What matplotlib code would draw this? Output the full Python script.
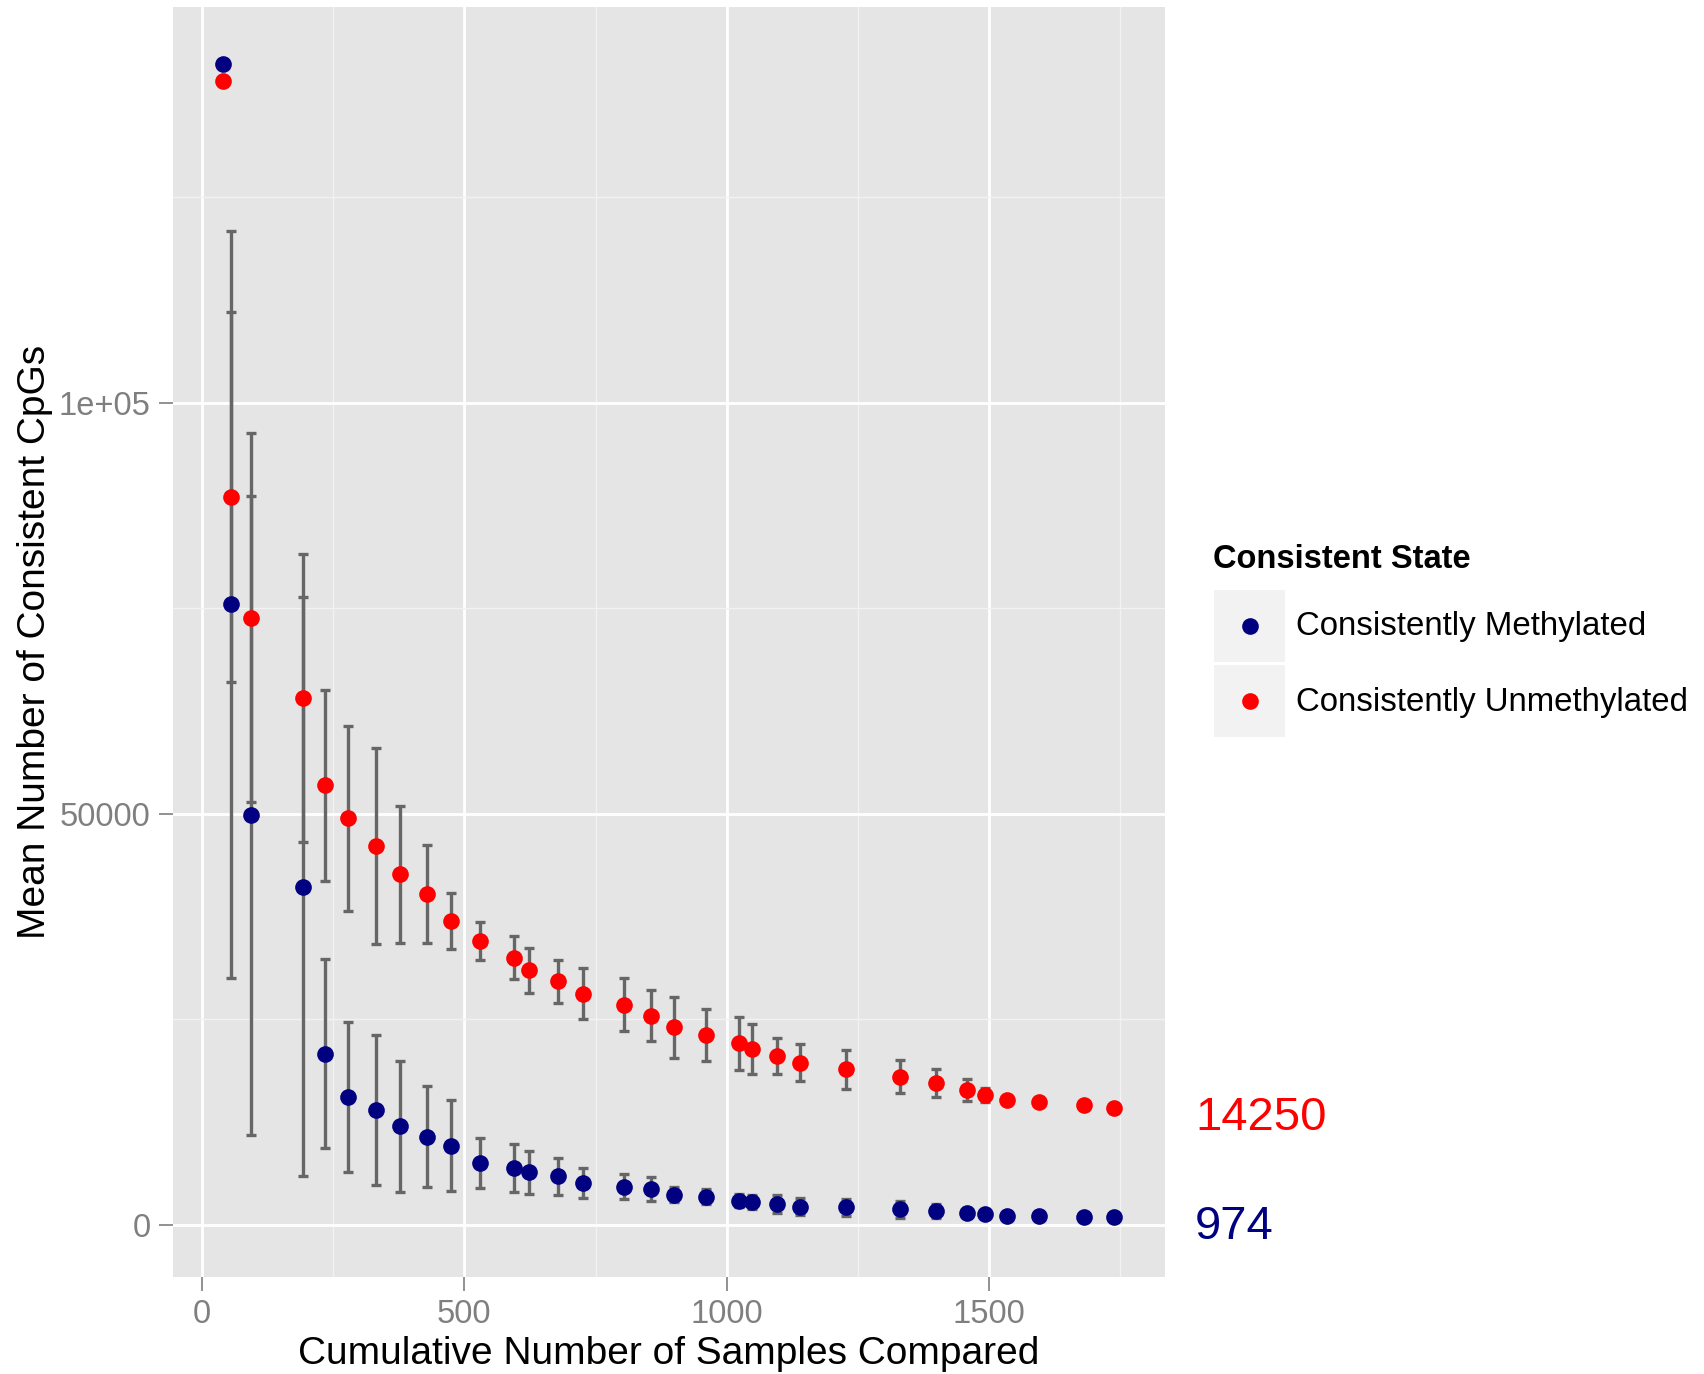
import matplotlib.pyplot as plt
import matplotlib.transforms as mtransforms
from matplotlib.patches import Rectangle
from matplotlib.lines import Line2D
from matplotlib.ticker import MultipleLocator, FixedLocator

plt.rcParams['font.family'] = ['Liberation Sans', 'DejaVu Sans']

# cumulative sample counts
samples = [41, 56, 93, 193, 234, 279, 331, 378, 429, 475, 530, 594, 624, 678, 727, 805,
           856, 900, 961, 1023, 1049, 1096, 1140, 1227, 1330, 1399, 1457, 1493, 1534, 1595,
           1680, 1737]

# mean consistent CpGs and spread, methylated
meth_mean = [141200, 75500, 49850, 41150, 20850, 15600, 14000, 12000, 10750, 9650, 7500,
             6900, 6400, 5900, 5100, 4670, 4350, 3700, 3450, 2950, 2750, 2500, 2230, 2150,
             1900, 1700, 1500, 1300, 1100, 1090, 1010, 974]
meth_sd = [0, 45400, 38850, 35200, 11450, 9100, 9100, 7950, 6100, 5500, 3050, 2900, 2650,
           2300, 1800, 1550, 1450, 900, 950, 800, 850, 1100, 1000, 1000, 1000, 850, 550,
           450, 400, 350, 300, 250]

# mean consistent CpGs and spread, unmethylated
unmeth_mean = [139150, 88550, 73850, 64150, 53470, 49450, 46120, 42650, 40250, 36980, 34530,
               32530, 31010, 29630, 28120, 26780, 25470, 24030, 23100, 22100, 21380, 20560,
               19740, 18930, 18050, 17220, 16400, 15800, 15200, 14900, 14590, 14250]
unmeth_sd = [0, 22500, 22450, 17500, 11600, 11230, 11880, 8300, 5930, 3450, 2330, 2570, 2730,
             2610, 3120, 3240, 3080, 3690, 3140, 3200, 3060, 2230, 2250, 2330, 1990, 1700,
             1320, 900, 300, 250, 200, 200]

state_labels = ["Consistently Methylated", "Consistently Unmethylated"]
state_colors = ["#000080", "#FF0000"]

W, H = 1704, 1374
fig = plt.figure(figsize=(W / 100, H / 100), dpi=100)


def fx(px):
    return px / W


def fy(py):
    return 1 - py / H


ax = fig.add_axes([fx(173), fy(1277), fx(1165) - fx(173), fy(7) - fy(1277)])
ax.set_facecolor('#E5E5E5')
for s in ax.spines.values():
    s.set_visible(False)
ax.set_xlim(-55, 1835)
ax.set_ylim(-6330, 148170)

ax.xaxis.set_major_locator(MultipleLocator(500))
ax.xaxis.set_minor_locator(MultipleLocator(250))
ax.yaxis.set_major_locator(FixedLocator([0, 50000, 100000]))
ax.yaxis.set_minor_locator(MultipleLocator(25000))
ax.set_yticklabels(['0', '50000', '1e+05'])
ax.grid(which='major', color='white', lw=2)
ax.grid(which='minor', color='#F2F2F2', lw=1)
ax.set_axisbelow(True)
ax.tick_params(which='major', length=10, width=1.2, color='#7F7F7F',
               labelcolor='#7F7F7F', labelsize=23.5, pad=6)
ax.tick_params(which='minor', length=0)

series = [(meth_mean, meth_sd), (unmeth_mean, unmeth_sd)]
for mean, sd in series:
    ax.errorbar(samples, mean, yerr=sd, fmt='none', ecolor='#666666',
                elinewidth=2.4, capsize=3.8, capthick=2.4, zorder=2)
for (mean, sd), c in zip(series, state_colors):
    ax.plot(samples, mean, 'o', color=c, ms=12, mec='none', zorder=3)

ax.set_xlabel('Cumulative Number of Samples Compared', fontsize=28, va='center')
ax.xaxis.set_label_coords(0.5, (1277 - 1354) / 1270)
ax.set_ylabel('Mean Number of Consistent CpGs', fontsize=28, va='center')
ax.yaxis.set_label_coords((35 - 173) / 992, 0.5)

# final values written next to the panel
trans = mtransforms.offset_copy(
    mtransforms.blended_transform_factory(fig.transFigure, ax.transData),
    fig=fig, y=-7, units='points')
for mean, c in zip([unmeth_mean, meth_mean], [state_colors[1], state_colors[0]]):
    fig.text(fx(1195), mean[-1], str(mean[-1]), transform=trans, color=c,
             fontsize=34, va='center', ha='left')

# legend
fig.text(fx(1213), fy(560), 'Consistent State', fontsize=23.5, fontweight='bold',
         va='center', ha='left')
key_top = [590, 665]
for i, (lab, c) in enumerate(zip(state_labels, state_colors)):
    y0 = key_top[i]
    fig.patches.append(Rectangle((fx(1214), fy(y0 + 72)), fx(71), 72 / H,
                                 transform=fig.transFigure, facecolor='#F2F2F2',
                                 edgecolor='none'))
    fig.lines.append(Line2D([fx(1250)], [fy(y0 + 36)], marker='o', ms=12, color=c,
                            mec='none', transform=fig.transFigure))
    fig.text(fx(1296), fy(y0 + 37), lab, fontsize=23.8, va='center', ha='left')

fig.savefig('out.png', dpi=100)
